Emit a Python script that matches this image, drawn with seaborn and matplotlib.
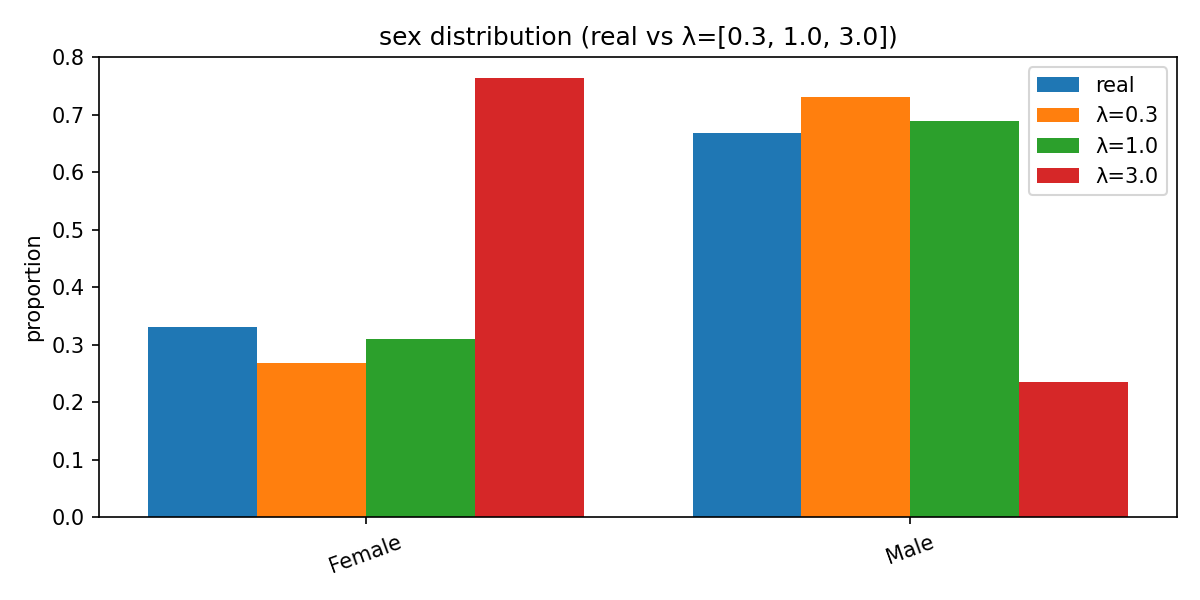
import matplotlib
matplotlib.use("Agg")
import matplotlib.pyplot as plt
import seaborn as sns
import pandas as pd

categories = ["Female", "Male"]
series_names = ["real", "λ=0.3", "λ=1.0", "λ=3.0"]
real = [0.330, 0.668]
lam03 = [0.268, 0.730]
lam10 = [0.310, 0.689]
lam30 = [0.763, 0.235]

rows = []
for name, vals in zip(series_names, [real, lam03, lam10, lam30]):
    for c, v in zip(categories, vals):
        rows.append({"sex": c, "series": name, "proportion": v})
df = pd.DataFrame(rows)

fig, ax = plt.subplots(figsize=(8, 4), dpi=150)
palette = ["#1f77b4", "#ff7f0e", "#2ca02c", "#d62728"]
sns.barplot(data=df, x="sex", y="proportion", hue="series", order=categories,
            hue_order=series_names, palette=palette, saturation=1, width=0.8,
            gap=0, linewidth=0, ax=ax)
ax.set_xlim(-0.49, 1.49)
ax.set_ylim(0, 0.8)
ax.set_xlabel("")
ax.set_ylabel("proportion")
ax.set_title("sex distribution (real vs λ=[0.3, 1.0, 3.0])")
plt.setp(ax.get_xticklabels(), rotation=20)
ax.legend(title=None, loc="upper right")
fig.subplots_adjust(left=0.0825, right=0.981, top=0.905, bottom=0.138)
fig.savefig("out.png", dpi=150)
